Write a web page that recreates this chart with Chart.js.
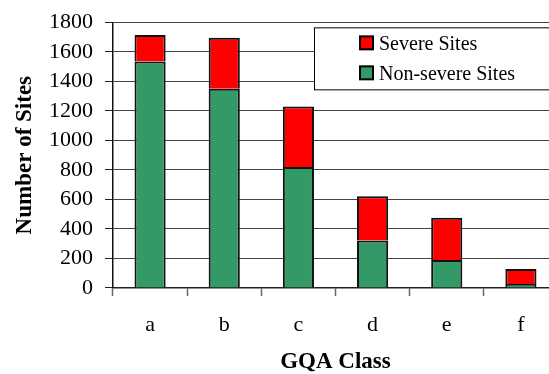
<!DOCTYPE html>
<html>
<head>
<meta charset="utf-8">
<script src="https://cdn.jsdelivr.net/npm/chart.js@4/dist/chart.umd.min.js"></script>
<style>
  html, body { margin: 0; padding: 0; background: #fff; overflow: hidden; }
  #wrap { width: 549px; height: 374px; overflow: hidden; }
  canvas { display: block; }
</style>
</head>
<body>
<div id="wrap"><canvas id="c" width="560" height="374"></canvas></div>
<script>
// GQA classes and site counts per class
const categories = ['a', 'b', 'c', 'd', 'e', 'f'];
const nonSevereSites = [1535, 1350, 820, 322, 190, 27];
const severeSites = [180, 345, 410, 300, 286, 102];
const yTicks = [0, 200, 400, 600, 800, 1000, 1200, 1400, 1600, 1800];

const SERIF = "'Liberation Serif', 'Times New Roman', serif";

// Boxed legend drawn inside the plot, top-right, severe series listed first
const boxLegend = {
  id: 'boxLegend',
  afterDraw(chart) {
    const { ctx, chartArea } = chart;
    const x0 = chartArea.left + 201;
    const y0 = chartArea.top + 5;
    ctx.save();
    ctx.fillStyle = '#fff';
    ctx.fillRect(x0, y0, 300, 62);
    ctx.strokeStyle = '#000';
    ctx.lineWidth = 1;
    ctx.strokeRect(x0 + 0.5, y0 + 0.5, 300, 62);
    ctx.font = '20px ' + SERIF;
    ctx.textBaseline = 'middle';
    const items = chart.data.datasets.slice().reverse();
    items.forEach((ds, i) => {
      const cy = y0 + 16 + i * 30;
      const sx = x0 + 46;
      ctx.fillStyle = ds.backgroundColor;
      ctx.fillRect(sx, cy - 7, 13, 13);
      ctx.lineWidth = 2;
      ctx.strokeStyle = '#000';
      ctx.strokeRect(sx, cy - 7, 13, 13);
      ctx.fillStyle = '#000';
      ctx.fillText(ds.label, sx + 19, cy + 1);
    });
    ctx.restore();
  }
};

new Chart(document.getElementById('c'), {
  type: 'bar',
  data: {
    labels: categories,
    datasets: [
      {
        label: 'Non-severe Sites',
        data: nonSevereSites,
        backgroundColor: '#339966',
        borderColor: '#111',
        borderWidth: 2,
        barPercentage: 0.42,
        categoryPercentage: 1
      },
      {
        label: 'Severe Sites',
        data: severeSites,
        backgroundColor: '#ff0000',
        borderColor: '#111',
        borderWidth: 2,
        barPercentage: 0.42,
        categoryPercentage: 1
      }
    ]
  },
  options: {
    responsive: false,
    animation: false,
    layout: { padding: { left: 0, top: 10, right: 2, bottom: 0 } },
    plugins: {
      legend: { display: false },
      tooltip: { enabled: false }
    },
    scales: {
      x: {
        stacked: true,
        offset: true,
        afterFit(s) { s.height = 86; },
        grid: {
          offset: true,
          drawOnChartArea: false,
          drawTicks: true,
          tickLength: 8,
          tickColor: '#666',
          tickWidth: 1.5
        },
        border: { display: true, color: '#222', width: 1.5 },
        ticks: {
          color: '#000',
          font: { family: SERIF, size: 22 },
          padding: 16
        },
        title: {
          display: true,
          text: 'GQA Class',
          color: '#000',
          font: { family: SERIF, size: 23, weight: 'bold', lineHeight: 1.0 },
          padding: { top: 0, bottom: 0 }
        }
      },
      y: {
        stacked: true,
        min: 0,
        max: 1800,
        afterFit(s) { s.width = 113; },
        afterBuildTicks(s) { s.ticks = yTicks.map(v => ({ value: v })); },
        grid: {
          color: '#444',
          lineWidth: 1,
          drawTicks: true,
          tickLength: 8,
          tickColor: '#222'
        },
        border: { display: true, color: '#111', width: 1.5 },
        ticks: {
          color: '#000',
          font: { family: SERIF, size: 22, lineHeight: 0.94 },
          padding: 12,
          autoSkip: false,
          callback: v => String(v)
        },
        title: {
          display: true,
          text: 'Number of Sites',
          color: '#000',
          font: { family: SERIF, size: 23, weight: 'bold', lineHeight: 1.2 },
          padding: { top: 11, bottom: 0 }
        }
      }
    }
  },
  plugins: [boxLegend]
});
</script>
</body>
</html>
